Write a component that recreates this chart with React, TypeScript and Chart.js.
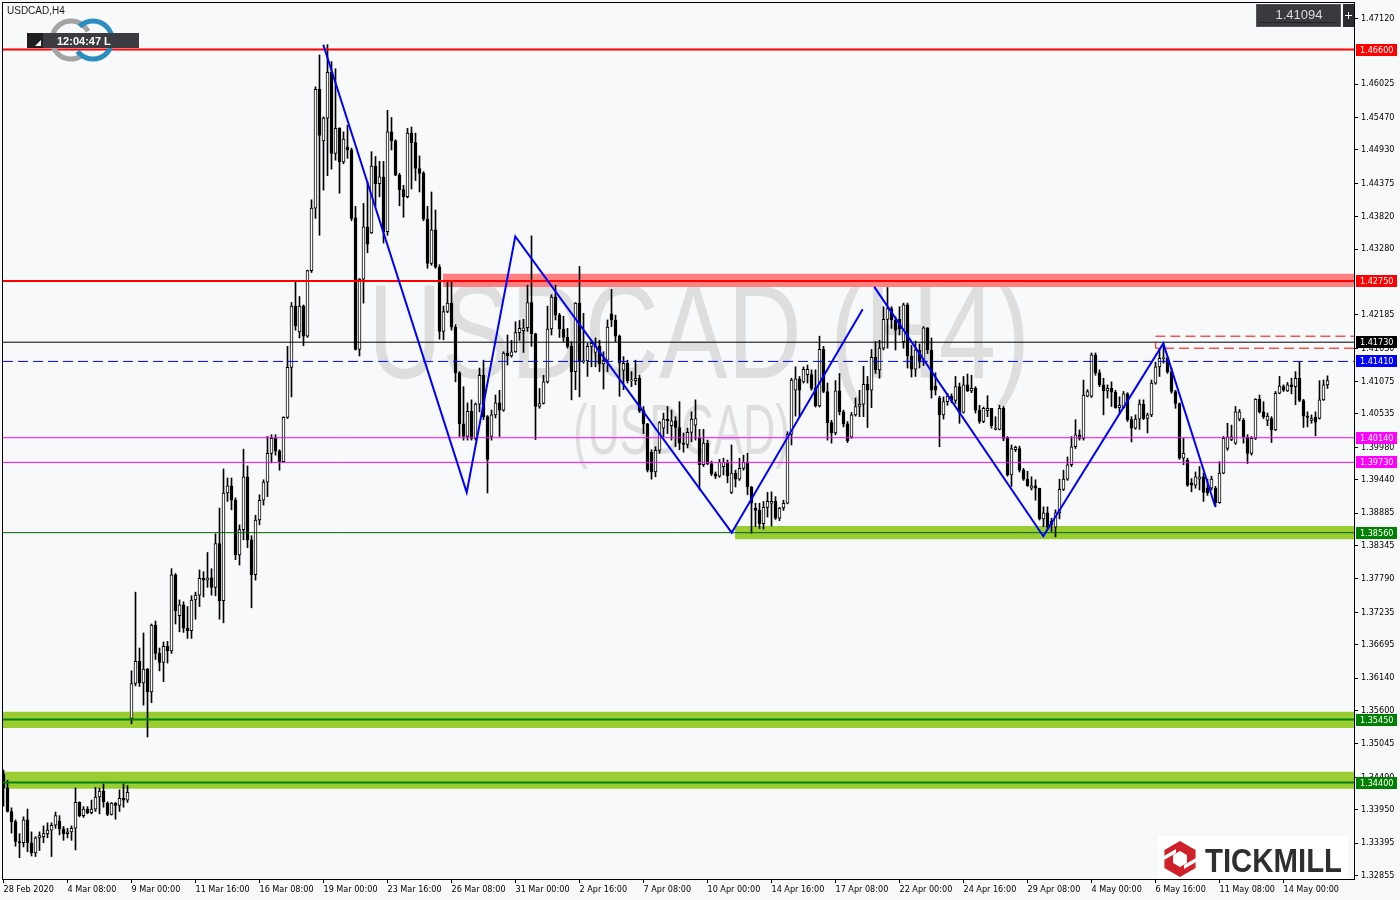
import React, { useEffect, useRef } from 'react';
import { Chart, registerables } from 'chart.js';

Chart.register(...registerables);

// ---- Candles [open, high, low, close], one array per trading week (H4 bars) ----
const wk0 = [
  [1.3454,1.3461,1.3401,1.3431],[1.3431,1.3444,1.3391,1.3392],[1.3392,1.3398,1.3356,1.3375],[1.3375,1.3378,1.3334,1.3342],
  [1.3342,1.3355,1.3315,1.3340],[1.3340,1.3383,1.3333,1.3378],[1.3378,1.3396,1.3325,1.3340],[1.3340,1.3358,1.3318,1.3323],
  [1.3323,1.3350,1.3317,1.3348],[1.3348,1.3358,1.3327,1.3352],[1.3350,1.3368,1.3340,1.3355],[1.3355,1.3373,1.3348,1.3361],
  [1.3361,1.3373,1.3317,1.3369],[1.3369,1.3391,1.3364,1.3385],[1.3376,1.3385,1.3353,1.3363],[1.3363,1.3367,1.3344,1.3355],
  [1.3355,1.3364,1.3348,1.3358],[1.3358,1.3368,1.3344,1.3364],[1.3364,1.3431,1.3328,1.3407],[1.3407,1.3408,1.3383,1.3385],
  [1.3385,1.3400,1.3382,1.3396],[1.3396,1.3400,1.3388,1.3390],[1.3390,1.3411,1.3388,1.3396],[1.3396,1.3432,1.3392,1.3416],
  [1.3416,1.3431,1.3388,1.3426],[1.3426,1.3438,1.3399,1.3408],[1.3406,1.3408,1.3385,1.3387],[1.3387,1.3407,1.3386,1.3406],
  [1.3406,1.3407,1.3379,1.3402],[1.3402,1.3428,1.3392,1.3414],[1.3414,1.3438,1.3399,1.3411],[1.3411,1.3435,1.3407,1.3424],
];
const wk1 = [
  [1.3547,1.3626,1.3538,1.3605],[1.3605,1.3757,1.3601,1.3642],[1.3642,1.3664,1.3600,1.3606],[1.3606,1.3689,1.3569,1.3629],
  [1.3629,1.3630,1.3516,1.3591],[1.3591,1.3704,1.3573,1.3702],[1.3702,1.3709,1.3645,1.3655],[1.3655,1.3664,1.3626,1.3640],
  [1.3640,1.3674,1.3608,1.3667],[1.3667,1.3675,1.3639,1.3659],[1.3659,1.3796,1.3655,1.3786],[1.3786,1.3788,1.3704,1.3726],
  [1.3718,1.3744,1.3691,1.3736],[1.3736,1.3741,1.3690,1.3697],[1.3697,1.3733,1.3680,1.3693],[1.3693,1.3751,1.3680,1.3744],
  [1.3744,1.3757,1.3712,1.3752],[1.3752,1.3794,1.3733,1.3780],[1.3780,1.3791,1.3749,1.3777],[1.3777,1.3823,1.3765,1.3781],
  [1.3781,1.3796,1.3752,1.3765],[1.3765,1.3854,1.3751,1.3838],[1.3838,1.3897,1.3712,1.3743],[1.3743,1.3962,1.3706,1.3922],
  [1.3922,1.3947,1.3908,1.3934],[1.3934,1.3947,1.3894,1.3910],[1.3910,1.3914,1.3811,1.3819],[1.3819,1.3869,1.3802,1.3861],
  [1.3861,1.3995,1.3844,1.3949],[1.3949,1.3967,1.3831,1.3844],
];
const wk2 = [
  [1.3844,1.3851,1.3731,1.3786],[1.3786,1.3885,1.3777,1.3877],[1.3877,1.3919,1.3869,1.3910],[1.3910,1.3944,1.3902,1.3940],
  [1.3940,1.4016,1.3916,1.3988],[1.3988,1.4019,1.3972,1.4013],[1.4013,1.4019,1.3985,1.3992],[1.3992,1.3994,1.3960,1.3974],
  [1.3974,1.4049,1.3973,1.4048],[1.4048,1.4166,1.4046,1.4131],[1.4131,1.4239,1.4082,1.4233],[1.4233,1.4274,1.4193,1.4200],
  [1.4190,1.4249,1.4180,1.4233],[1.4233,1.4235,1.4167,1.4183],[1.4183,1.4293,1.4181,1.4292],[1.4292,1.4410,1.4289,1.4396],
  [1.4396,1.4598,1.4379,1.4594],[1.4594,1.4651,1.4351,1.4517],[1.4508,1.4548,1.4426,1.4546],[1.4546,1.4668,1.4450,1.4622],
  [1.4622,1.4640,1.4461,1.4487],[1.4487,1.4628,1.4476,1.4529],[1.4529,1.4530,1.4421,1.4473],[1.4473,1.4523,1.4470,1.4511],
  [1.4498,1.4534,1.4479,1.4493],[1.4493,1.4496,1.4375,1.4379],[1.4380,1.4399,1.4160,1.4161],[1.4161,1.4279,1.4150,1.4278],
  [1.4278,1.4404,1.4238,1.4365],[1.4365,1.4440,1.4322,1.4336],
];
const wk3 = [
  [1.4355,1.4490,1.4354,1.4466],[1.4466,1.4482,1.4399,1.4437],[1.4437,1.4474,1.4415,1.4448],[1.4448,1.4474,1.4338,1.4357],
  [1.4357,1.4559,1.4351,1.4523],[1.4523,1.4547,1.4493,1.4508],[1.4508,1.4510,1.4450,1.4451],[1.4451,1.4454,1.4400,1.4427],
  [1.4427,1.4434,1.4381,1.4415],[1.4415,1.4529,1.4413,1.4521],[1.4521,1.4531,1.4428,1.4505],[1.4505,1.4521,1.4442,1.4462],
  [1.4462,1.4483,1.4423,1.4454],[1.4454,1.4457,1.4375,1.4378],[1.4378,1.4399,1.4296,1.4304],[1.4304,1.4423,1.4301,1.4360],
  [1.4360,1.4393,1.4296,1.4298],[1.4298,1.4302,1.4178,1.4191],[1.4191,1.4233,1.4177,1.4224],[1.4224,1.4274,1.4222,1.4238],
  [1.4238,1.4274,1.4193,1.4198],[1.4198,1.4202,1.4107,1.4122],[1.4122,1.4124,1.4016,1.4037],[1.4037,1.4099,1.4010,1.4016],
  [1.4016,1.4072,1.4010,1.4058],[1.4058,1.4077,1.4010,1.4013],[1.4013,1.4072,1.4010,1.4070],[1.4070,1.4130,1.4057,1.4118],
  [1.4118,1.4143,1.4044,1.4049],[1.4049,1.4051,1.3922,1.3978],
];
const wk4 = [
  [1.4016,1.4060,1.4010,1.4052],[1.4052,1.4085,1.4047,1.4072],[1.4072,1.4093,1.4016,1.4060],[1.4060,1.4157,1.4058,1.4155],
  [1.4155,1.4185,1.4135,1.4150],[1.4150,1.4176,1.4148,1.4157],[1.4157,1.4207,1.4156,1.4189],[1.4189,1.4209,1.4176,1.4196],
  [1.4192,1.4211,1.4156,1.4197],[1.4197,1.4268,1.4191,1.4239],[1.4239,1.4350,1.4166,1.4187],[1.4187,1.4188,1.4011,1.4066],
  [1.4066,1.4096,1.4063,1.4071],[1.4071,1.4118,1.4070,1.4107],[1.4107,1.4233,1.4105,1.4195],[1.4195,1.4252,1.4185,1.4248],
  [1.4248,1.4268,1.4210,1.4218],[1.4218,1.4221,1.4181,1.4195],[1.4195,1.4216,1.4174,1.4181],[1.4181,1.4196,1.4163,1.4166],
  [1.4166,1.4174,1.4077,1.4124],[1.4124,1.4239,1.4094,1.4238],[1.4238,1.4299,1.4082,1.4141],[1.4141,1.4221,1.4138,1.4142],
  [1.4142,1.4171,1.4116,1.4166],[1.4166,1.4176,1.4132,1.4171],[1.4156,1.4180,1.4132,1.4166],[1.4166,1.4176,1.4124,1.4137],
  [1.4137,1.4157,1.4095,1.4143],[1.4143,1.4210,1.4124,1.4198],
];
const wk5 = [
  [1.4220,1.4261,1.4199,1.4210],[1.4210,1.4218,1.4174,1.4183],[1.4183,1.4185,1.4083,1.4138],[1.4126,1.4149,1.4094,1.4138],
  [1.4138,1.4143,1.4105,1.4109],[1.4109,1.4124,1.4099,1.4110],[1.4109,1.4143,1.4102,1.4113],[1.4113,1.4118,1.4056,1.4059],
  [1.4059,1.4066,1.4021,1.4037],[1.4037,1.4038,1.3957,1.3960],[1.3990,1.3994,1.3945,1.3957],[1.3957,1.3999,1.3949,1.3993],
  [1.3993,1.4041,1.3988,1.4039],[1.4030,1.4055,1.4016,1.4045],[1.4045,1.4066,1.4021,1.4042],[1.4034,1.4060,1.4010,1.4042],
  [1.4042,1.4049,1.3999,1.4031],[1.4031,1.4074,1.3994,1.4005],[1.4005,1.4022,1.3990,1.4003],[1.4003,1.4030,1.3997,1.4023],
  [1.4023,1.4057,1.4007,1.4045],[1.4035,1.4077,1.4010,1.4046],[1.4013,1.4028,1.3927,1.3969],[1.3969,1.4028,1.3966,1.4005],
  [1.4005,1.4010,1.3969,1.3971],[1.3971,1.3975,1.3951,1.3954],[1.3954,1.3957,1.3946,1.3950],[1.3950,1.3978,1.3948,1.3973],
  [1.3966,1.3980,1.3952,1.3973],[1.3973,1.3977,1.3939,1.3951],
];
const wk6 = [
  [1.3923,1.4002,1.3921,1.3955],[1.3955,1.3960,1.3932,1.3945],[1.3945,1.3980,1.3943,1.3963],[1.3963,1.3985,1.3960,1.3973],
  [1.3973,1.3988,1.3919,1.3932],[1.3932,1.3933,1.3855,1.3905],[1.3897,1.3905,1.3866,1.3893],[1.3893,1.3905,1.3863,1.3871],
  [1.3871,1.3908,1.3862,1.3898],[1.3898,1.3923,1.3882,1.3908],[1.3905,1.3924,1.3867,1.3908],[1.3908,1.3916,1.3878,1.3880],
  [1.3880,1.3898,1.3876,1.3897],[1.3897,1.3910,1.3893,1.3905],[1.3905,1.4024,1.3904,1.4020],[1.4020,1.4113,1.4002,1.4110],
  [1.4093,1.4132,1.4050,1.4112],[1.4112,1.4116,1.4049,1.4093],[1.4107,1.4132,1.4105,1.4128],[1.4119,1.4135,1.4105,1.4128],
  [1.4119,1.4127,1.4093,1.4096],[1.4096,1.4127,1.4065,1.4067],[1.4067,1.4183,1.4065,1.4161],[1.4161,1.4166,1.4089,1.4091],
  [1.4091,1.4105,1.4010,1.4039],[1.4039,1.4043,1.4005,1.4022],[1.4022,1.4109,1.4019,1.4092],[1.4092,1.4121,1.4052,1.4057],
  [1.4057,1.4060,1.4032,1.4037],[1.4037,1.4041,1.4006,1.4009],
];
const wk7 = [
  [1.4015,1.4056,1.4013,1.4052],[1.4052,1.4080,1.4050,1.4066],[1.4066,1.4093,1.4049,1.4070],[1.4070,1.4133,1.4049,1.4103],
  [1.4103,1.4116,1.4031,1.4093],[1.4093,1.4161,1.4064,1.4148],[1.4148,1.4174,1.4121,1.4127],[1.4127,1.4176,1.4113,1.4163],
  [1.4163,1.4232,1.4160,1.4211],[1.4211,1.4264,1.4163,1.4229],[1.4229,1.4232,1.4196,1.4210],[1.4210,1.4215,1.4160,1.4193],
  [1.4211,1.4232,1.4185,1.4195],[1.4174,1.4238,1.4163,1.4235],[1.4235,1.4238,1.4130,1.4150],[1.4150,1.4168,1.4115,1.4128],
  [1.4128,1.4175,1.4116,1.4160],[1.4160,1.4170,1.4130,1.4140],[1.4140,1.4199,1.4134,1.4197],[1.4197,1.4197,1.4154,1.4160],
  [1.4160,1.4180,1.4080,1.4093],[1.4100,1.4122,1.4085,1.4093],[1.4080,1.4083,1.3999,1.4052],[1.4052,1.4082,1.4045,1.4074],
  [1.4074,1.4088,1.4068,1.4083],[1.4083,1.4087,1.4072,1.4076],[1.4076,1.4116,1.4071,1.4099],[1.4099,1.4105,1.4038,1.4056],
  [1.4056,1.4116,1.4055,1.4102],[1.4102,1.4120,1.4091,1.4092],
];
const wk8 = [
  [1.4092,1.4118,1.4089,1.4096],[1.4096,1.4099,1.4055,1.4060],[1.4060,1.4068,1.4038,1.4041],[1.4041,1.4065,1.4039,1.4063],
  [1.4059,1.4084,1.4049,1.4063],[1.4063,1.4063,1.4030,1.4034],[1.4028,1.4049,1.4027,1.4030],[1.4028,1.4068,1.4027,1.4063],
  [1.4063,1.4066,1.4009,1.4013],[1.4013,1.4016,1.3950,1.3952],[1.3952,1.4002,1.3933,1.3996],[1.3994,1.4000,1.3991,1.3998],
  [1.3996,1.4000,1.3957,1.3960],[1.3960,1.3963,1.3943,1.3945],[1.3945,1.3958,1.3933,1.3934],[1.3930,1.3949,1.3927,1.3934],
  [1.3934,1.3944,1.3910,1.3930],[1.3930,1.3930,1.3877,1.3879],[1.3879,1.3899,1.3866,1.3889],[1.3889,1.3899,1.3862,1.3865],
  [1.3875,1.3880,1.3858,1.3869],[1.3865,1.3894,1.3849,1.3889],[1.3889,1.3945,1.3879,1.3928],[1.3928,1.3960,1.3926,1.3945],
  [1.3945,1.3982,1.3943,1.3969],[1.3969,1.4016,1.3966,1.3999],[1.3999,1.4044,1.3996,1.4019],[1.4019,1.4027,1.4010,1.4013],
  [1.4013,1.4110,1.4010,1.4085],[1.4083,1.4094,1.4082,1.4091],
];
const wk9 = [
  [1.4083,1.4155,1.4081,1.4152],[1.4152,1.4155,1.4118,1.4122],[1.4122,1.4127,1.4099,1.4102],[1.4102,1.4113,1.4052,1.4092],
  [1.4092,1.4102,1.4080,1.4096],[1.4096,1.4107,1.4066,1.4090],[1.4090,1.4093,1.4063,1.4064],[1.4064,1.4082,1.4054,1.4068],
  [1.4064,1.4091,1.4063,1.4087],[1.4087,1.4089,1.4041,1.4044],[1.4044,1.4049,1.4007,1.4030],[1.4030,1.4052,1.4028,1.4045],
  [1.4045,1.4077,1.4028,1.4070],[1.4070,1.4077,1.4044,1.4046],[1.4046,1.4055,1.4022,1.4052],[1.4052,1.4110,1.4049,1.4105],
  [1.4105,1.4140,1.4103,1.4132],[1.4132,1.4161,1.4116,1.4146],[1.4146,1.4171,1.4138,1.4147],[1.4147,1.4149,1.4121,1.4124],
  [1.4124,1.4130,1.4088,1.4091],[1.4091,1.4093,1.4063,1.4071],[1.4071,1.4072,1.3978,1.3980],[1.3980,1.4013,1.3969,1.3988],
  [1.3977,1.3980,1.3933,1.3935],[1.3939,1.3946,1.3924,1.3935],[1.3935,1.3957,1.3930,1.3949],[1.3945,1.3966,1.3927,1.3949],
  [1.3949,1.3955,1.3908,1.3923],[1.3930,1.3945,1.3918,1.3922],
];
const wk10 = [
  [1.3930,1.3950,1.3927,1.3945],[1.3930,1.3933,1.3899,1.3906],[1.3906,1.3974,1.3905,1.3955],[1.3955,1.4016,1.3954,1.4013],
  [1.3996,1.4038,1.3993,1.4015],[1.4011,1.4035,1.4009,1.4016],[1.4005,1.4066,1.4003,1.4057],[1.4045,1.4061,1.4042,1.4057],
  [1.4043,1.4046,1.4005,1.4015],[1.4015,1.4019,1.3971,1.3988],[1.3988,1.4016,1.3985,1.4013],[1.4013,1.4079,1.4011,1.4078],
  [1.4078,1.4085,1.4055,1.4057],[1.4057,1.4074,1.4046,1.4049],[1.4043,1.4055,1.4034,1.4050],[1.4046,1.4049,1.4006,1.4027],
  [1.4027,1.4091,1.4026,1.4088],[1.4088,1.4116,1.4087,1.4100],[1.4099,1.4102,1.4091,1.4093],[1.4092,1.4106,1.4091,1.4102],
  [1.4102,1.4113,1.4087,1.4099],[1.4099,1.4124,1.4069,1.4113],[1.4113,1.4141,1.4074,1.4076],[1.4076,1.4078,1.4031,1.4050],
  [1.4050,1.4057,1.4032,1.4048],[1.4043,1.4052,1.4038,1.4046],[1.4048,1.4057,1.4017,1.4040],[1.4046,1.4109,1.4045,1.4077],
  [1.4077,1.4110,1.4076,1.4102],[1.4102,1.4117,1.4096,1.4109],
];
const WEEKS = [wk0, wk1, wk2, wk3, wk4, wk5, wk6, wk7, wk8, wk9, wk10];

// ---- Time axis labels (bar index -> text) ----
const X_LABEL_BARS = [0,16,32,48,64,80,96,112,128,144,160,176,192,208,224,240,256,272,288,304,320];
const X_LABELS = ['28 Feb 2020','4 Mar 08:00','9 Mar 00:00','11 Mar 16:00','16 Mar 08:00','19 Mar 00:00','23 Mar 16:00',
  '26 Mar 08:00','31 Mar 00:00','2 Apr 16:00','7 Apr 08:00','10 Apr 00:00','14 Apr 16:00','17 Apr 08:00','22 Apr 00:00',
  '24 Apr 16:00','29 Apr 08:00','4 May 00:00','6 May 16:00','11 May 08:00','14 May 00:00'];

// ---- Price axis labels ----
const Y_TICKS = [1.47120,1.46025,1.45470,1.44930,1.44375,1.43820,1.43280,1.42185,1.41630,1.41075,1.40535,1.39980,1.39440,
  1.38885,1.38345,1.37790,1.37235,1.36695,1.36140,1.35600,1.35045,1.34490,1.33950,1.33395,1.32855];

// ---- Horizontal levels ----
const LEVEL_PRICES = [1.46600,1.42750,1.41730,1.41410,1.40140,1.39730,1.38560,1.35450,1.34400];
const LEVEL_TAG_COLORS = ['#ff0000','#ff0000','#000000','#0000ff','#ff00ff','#ff00ff','#008000','#008000','#008000'];
const LEVEL_LINE_COLORS = ['#ff0000','#ff0000','#000000','#0000ff','#ff00ff','#ff00ff','#006400','#008000','#008000'];
const LEVEL_WIDTHS = [2,2,1,1,1,1,1,2,2];
const LEVEL_DASHED = [false,false,false,true,false,false,false,false,false];

// ---- Zones (start bar, top, bottom) ----
const ZONE_START = [109.9, 182.9, -0.125, -0.125];
const ZONE_TOP = [1.4287, 1.3867, 1.3558, 1.3458];
const ZONE_BOTTOM = [1.4265, 1.3845, 1.3531, 1.3430];
const ZONE_COLORS = ['#ff8080', '#9acd32', '#9acd32', '#9acd32'];

// ---- Zigzag pattern (bar index, price) ----
const ZIG_A_X = [79.95, 115.8, 127.95, 182.05, 214.8];
const ZIG_A_Y = [1.4668, 1.3923, 1.4349, 1.3856, 1.4228];
const ZIG_B_X = [217.7, 259.95, 289.95, 302.9];
const ZIG_B_Y = [1.4265, 1.3850, 1.4171, 1.3900];

// ---- Dashed box near the May high ----
const BOX_START = 288.05;
const BOX_TOP = 1.4183;
const BOX_BOTTOM = 1.4163;

const LAST_PRICE = '1.41094';

const X_MIN = -0.125;
const X_MAX = 337.625;
const Y_MIN = 1.32796;
const Y_MAX = 1.47375;

const AXIS_FONT = "'DejaVu Sans Condensed', 'Liberation Sans', Arial, sans-serif";
const SANS = "'Liberation Sans', Arial, sans-serif";

function drawStretched(ctx: CanvasRenderingContext2D, text: string, font: string, left: number, baseline: number, width: number) {
  ctx.save();
  ctx.font = font;
  const w = ctx.measureText(text).width;
  ctx.translate(left, baseline);
  ctx.scale(width / w, 1);
  ctx.textAlign = 'left';
  ctx.textBaseline = 'alphabetic';
  ctx.fillText(text, 0, 0);
  ctx.restore();
}

const backgroundPlugin = {
  id: 'mtBackground',
  beforeDraw(chart: any) {
    const { ctx, width, height } = chart;
    ctx.save();
    ctx.fillStyle = '#f8f9fb';
    ctx.fillRect(0, 0, width, height);
    ctx.restore();
  },
  beforeDatasetsDraw(chart: any) {
    const { ctx, chartArea } = chart;
    ctx.save();
    ctx.beginPath();
    ctx.rect(chartArea.left, chartArea.top, chartArea.right - chartArea.left, chartArea.bottom - chartArea.top);
    ctx.clip();
    ctx.fillStyle = '#dedede';
    drawStretched(ctx, 'USDCAD (H4)', `134px ${SANS}`, 368, 378, 662);
    drawStretched(ctx, '(USDCAD)', `70px ${SANS}`, 573, 454, 217);
    ctx.restore();
  },
};

const overlayPlugin = {
  id: 'mtOverlay',
  afterDraw(chart: any) {
    const { ctx, chartArea } = chart;
    const yScale = chart.scales.y;
    ctx.save();
    // frame
    ctx.strokeStyle = '#000';
    ctx.lineWidth = 1;
    ctx.strokeRect(2.5, 2.5, chartArea.right - 2, chartArea.bottom - 2);

    // title
    ctx.fillStyle = '#1a1a1a';
    ctx.font = `10px ${SANS}`;
    ctx.textAlign = 'left';
    ctx.textBaseline = 'alphabetic';
    ctx.fillText('USDCAD,H4', 7, 14);

    // one-click logo rings
    ctx.lineWidth = 5;
    ctx.strokeStyle = '#a3a3a3';
    ctx.beginPath();
    ctx.arc(71, 40, 19, 0.3 * Math.PI, 1.85 * Math.PI);
    ctx.stroke();
    ctx.strokeStyle = '#2b8cbf';
    ctx.beginPath();
    ctx.arc(93, 40, 19, -0.75 * Math.PI, 0.8 * Math.PI);
    ctx.stroke();

    // timer box
    ctx.fillStyle = '#3c3b41';
    ctx.fillRect(27, 33, 112, 15);
    ctx.fillStyle = '#1f1f22';
    ctx.fillRect(27, 33, 16, 15);
    ctx.fillStyle = '#ffffff';
    ctx.beginPath();
    ctx.moveTo(41, 46); ctx.lineTo(41, 40); ctx.lineTo(35, 46); ctx.closePath();
    ctx.fill();
    ctx.font = `bold 11px ${SANS}`;
    ctx.fillText('12:04:47 L', 57, 44.5);

    // last price box
    ctx.fillStyle = '#3a3a3e';
    ctx.fillRect(1256, 4, 85, 23);
    ctx.strokeStyle = '#55555b';
    ctx.lineWidth = 1;
    ctx.strokeRect(1256.5, 4.5, 84, 22);
    ctx.strokeStyle = '#222226';
    ctx.beginPath(); ctx.moveTo(1260, 22.5); ctx.lineTo(1337, 22.5); ctx.stroke();
    ctx.fillStyle = '#dcdcdc';
    ctx.font = `13px ${SANS}`;
    ctx.textAlign = 'center';
    ctx.fillText(LAST_PRICE, 1299, 19);
    ctx.fillStyle = '#2c2c30';
    ctx.fillRect(1343, 4, 11, 23);
    ctx.strokeStyle = '#ffffff';
    ctx.beginPath();
    ctx.moveTo(1345, 15.5); ctx.lineTo(1352, 15.5);
    ctx.moveTo(1348.5, 12); ctx.lineTo(1348.5, 19);
    ctx.stroke();

    // price tags on the right axis
    ctx.font = `9px ${AXIS_FONT}`;
    ctx.textAlign = 'left';
    ctx.textBaseline = 'middle';
    LEVEL_PRICES.forEach((p, i) => {
      const py = Math.round(yScale.getPixelForValue(p));
      ctx.fillStyle = LEVEL_TAG_COLORS[i];
      ctx.fillRect(1356, py - 6, 41, 12);
      ctx.fillStyle = '#ffffff';
      ctx.fillText(p.toFixed(5), 1360, py + 0.5);
    });

    // Tickmill logo
    ctx.fillStyle = '#ffffff';
    ctx.fillRect(1158, 836, 190, 43);
    const cx = 1180, cy = 859, r = 18;
    ctx.fillStyle = '#d0202a';
    ctx.beginPath();
    for (let k = 0; k < 6; k++) {
      const a = Math.PI / 6 + (k * Math.PI) / 3;
      const px = cx + r * Math.cos(a), py = cy + r * Math.sin(a);
      if (k === 0) ctx.moveTo(px, py); else ctx.lineTo(px, py);
    }
    ctx.closePath();
    ctx.fill();
    ctx.fillStyle = '#ffffff';
    ctx.beginPath();
    for (let k = 0; k < 6; k++) {
      const a = Math.PI / 6 + (k * Math.PI) / 3;
      const px = cx + 8 * Math.cos(a), py = cy + 8 * Math.sin(a);
      if (k === 0) ctx.moveTo(px, py); else ctx.lineTo(px, py);
    }
    ctx.closePath();
    ctx.fill();
    ctx.beginPath();
    ctx.moveTo(cx - 16, cy - 3); ctx.lineTo(cx - 4, cy - 10); ctx.lineTo(cx - 4, cy - 6); ctx.lineTo(cx - 16, cy + 1); ctx.closePath();
    ctx.moveTo(cx + 16, cy + 3); ctx.lineTo(cx + 4, cy + 10); ctx.lineTo(cx + 4, cy + 6); ctx.lineTo(cx + 16, cy - 1); ctx.closePath();
    ctx.fill();
    ctx.fillStyle = '#2e2e2e';
    drawStretched(ctx, 'TICKMILL', `bold 34px ${SANS}`, 1205, 872, 137);

    ctx.restore();
  },
};

export default function App() {
  const ref = useRef<HTMLCanvasElement | null>(null);

  useEffect(() => {
    const canvas = ref.current;
    if (!canvas) return;
    const candles = WEEKS.flat().map(([o, h, l, c]) => ({ o, h: Math.max(h, o, c), l: Math.min(l, o, c), c }));
    const MIN_BODY = 0.00017;
    const bodies = candles.map((k, i) => {
      let lo = Math.min(k.o, k.c);
      let hi = Math.max(k.o, k.c);
      if (hi - lo < MIN_BODY) {
        const m = (hi + lo) / 2;
        lo = m - MIN_BODY / 2;
        hi = m + MIN_BODY / 2;
      }
      return { x: i, y: [lo, hi] };
    });
    const wicks = candles.map((k, i) => ({ x: i, y: [k.l, k.h] }));
    const bodyColors = candles.map((k) => (k.c >= k.o ? '#ffffff' : '#000000'));

    const datasets: any[] = [];
    // zigzag
    datasets.push({
      type: 'line', data: ZIG_A_X.map((x, i) => ({ x, y: ZIG_A_Y[i] })),
      borderColor: '#0000ff', borderWidth: 2, pointRadius: 0, fill: false, order: 1,
    });
    datasets.push({
      type: 'line', data: ZIG_B_X.map((x, i) => ({ x, y: ZIG_B_Y[i] })),
      borderColor: '#0000ff', borderWidth: 2, pointRadius: 0, fill: false, order: 1,
    });
    // dashed box
    datasets.push({
      type: 'line',
      data: [
        { x: X_MAX, y: BOX_BOTTOM }, { x: BOX_START, y: BOX_BOTTOM },
        { x: BOX_START, y: BOX_TOP }, { x: X_MAX, y: BOX_TOP },
      ],
      borderColor: '#ff0000', borderWidth: 1, borderDash: [10, 5], pointRadius: 0, fill: false, order: 2,
    });
    // level lines
    LEVEL_PRICES.forEach((p, i) => {
      datasets.push({
        type: 'line', data: [{ x: X_MIN, y: p }, { x: X_MAX, y: p }],
        borderColor: LEVEL_LINE_COLORS[i], borderWidth: LEVEL_WIDTHS[i],
        borderDash: LEVEL_DASHED[i] ? [10, 5] : [], pointRadius: 0, fill: false, order: 2,
      });
    });
    // candle bodies
    datasets.push({
      type: 'bar', data: bodies, backgroundColor: bodyColors, borderColor: '#000000',
      borderWidth: 1, borderSkipped: false, barThickness: 3, grouped: false, order: 4,
    });
    // candle wicks
    datasets.push({
      type: 'bar', data: wicks, backgroundColor: '#000000', borderWidth: 0,
      barThickness: 1, grouped: false, order: 5,
    });
    // zones
    ZONE_TOP.forEach((t, i) => {
      datasets.push({
        type: 'line', data: [{ x: ZONE_START[i], y: t }, { x: X_MAX, y: t }],
        borderColor: 'rgba(0,0,0,0)', borderWidth: 1, pointRadius: 0,
        backgroundColor: ZONE_COLORS[i], fill: { value: ZONE_BOTTOM[i] }, order: 10,
      });
    });

    const chart = new Chart(canvas, {
      type: 'bar',
      data: { datasets },
      options: {
        animation: false,
        responsive: false,
        maintainAspectRatio: false,
        devicePixelRatio: 1,
        events: [],
        layout: { padding: { left: 3, top: 3, right: 0, bottom: 0 } },
        plugins: { legend: { display: false }, tooltip: { enabled: false } },
        scales: {
          x: {
            type: 'linear', position: 'bottom', min: X_MIN, max: X_MAX, offset: false,
            afterBuildTicks: (axis: any) => { axis.ticks = X_LABEL_BARS.map((v) => ({ value: v })); },
            afterFit: (s: any) => { s.height = 21; s.paddingLeft = 0; s.paddingRight = 0; s.paddingTop = 0; s.paddingBottom = 0; },
            ticks: {
              autoSkip: false, maxRotation: 0, minRotation: 0, align: 'start', padding: 1,
              color: '#000000', font: { family: AXIS_FONT, size: 9 },
              callback: (_v: any, index: number) => X_LABELS[index],
            },
            grid: { drawOnChartArea: false, drawTicks: true, tickLength: 4, color: '#000000', offset: false },
            border: { display: true, color: '#000000', width: 1 },
          },
          y: {
            type: 'linear', position: 'right', min: Y_MIN, max: Y_MAX,
            afterBuildTicks: (axis: any) => { axis.ticks = Y_TICKS.map((v) => ({ value: v })); },
            afterFit: (s: any) => { s.width = 46; s.paddingLeft = 0; s.paddingRight = 0; s.paddingTop = 0; s.paddingBottom = 0; },
            ticks: {
              autoSkip: false, padding: 3, color: '#000000', font: { family: AXIS_FONT, size: 9 },
              callback: (v: any) => Number(v).toFixed(5),
            },
            grid: { drawOnChartArea: false, drawTicks: true, tickLength: 4, color: '#000000' },
            border: { display: true, color: '#000000', width: 1 },
          },
        },
      } as any,
      plugins: [backgroundPlugin, overlayPlugin],
    });
    return () => chart.destroy();
  }, []);

  return (
    <div style={{ position: 'fixed', left: 0, top: 0, width: 1400, height: 900, background: '#f8f9fb' }}>
      <canvas ref={ref} width={1400} height={900} style={{ display: 'block', width: 1400, height: 900 }} />
    </div>
  );
}
